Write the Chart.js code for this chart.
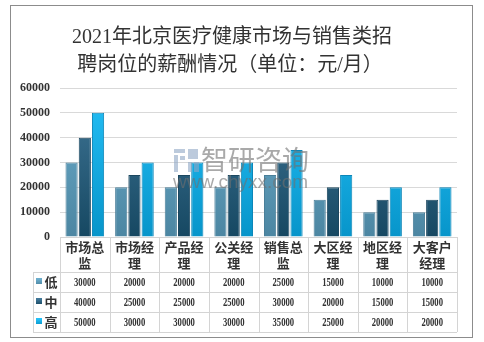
<!DOCTYPE html>
<html><head><meta charset="utf-8">
<script src="https://cdn.jsdelivr.net/npm/chart.js@4.4.0/dist/chart.umd.min.js"></script>
<style>html,body{margin:0;padding:0;background:#fff}#wrap{width:484px;height:342px;position:relative}</style>
</head><body><div id="wrap"><canvas id="c" width="484" height="342"></canvas></div>
<script>
const titleLines = ["2021年北京医疗健康市场与销售类招", "聘岗位的薪酬情况（单位：元/月）"];
const categories = ["市场总监", "市场经理", "产品经理", "公关经理", "销售总监", "大区经理", "地区经理", "大客户经理"];
const categoryLines = [["市场总","监"],["市场经","理"],["产品经","理"],["公关经","理"],["销售总","监"],["大区经","理"],["地区经","理"],["大客户","经理"]];
const seriesNames = ["低", "中", "高"];
const lowValues = [30000, 20000, 20000, 20000, 25000, 15000, 10000, 10000];
const midValues = [40000, 25000, 25000, 25000, 30000, 20000, 15000, 15000];
const highValues = [50000, 30000, 30000, 30000, 35000, 25000, 20000, 20000];
const yTicks = [0, 10000, 20000, 30000, 40000, 50000, 60000];

const colorStops = [
  ["#6daecd", "#4c86a2", "#4a7f99"],
  ["#427899", "#164862", "#1c475f"],
  ["#25c0f7", "#0795ca", "#0b86b8"]
];
function grad(idx){
  return (ctx) => {
    const ch = ctx.chart; const a = ch.chartArea;
    if (!a) return colorStops[idx][0];
    const g = ch.ctx.createLinearGradient(0, a.top, 0, a.bottom);
    g.addColorStop(0, colorStops[idx][0]);
    g.addColorStop(1, colorStops[idx][1]);
    return g;
  };
}
const serif = '"Liberation Serif", "Noto Sans CJK SC", serif';
const cjk = '"Noto Sans CJK SC", sans-serif';

const decor = {
  id: 'decor',
  beforeDraw(chart){
    const c = chart.ctx;
    c.save();
    c.fillStyle = '#fff'; c.fillRect(0,0,chart.width,chart.height);
    c.strokeStyle = '#8c8c8c'; c.lineWidth = 1;
    c.strokeRect(10.5, 5.5, 462, 332);
    c.fillStyle = '#333';
    c.font = '20px ' + serif;
    c.textAlign = 'center'; c.textBaseline = 'middle';
    c.fillText(titleLines[0], 232, 38);
    c.fillText(titleLines[1], 230, 66);
    c.restore();
  },
  afterDatasetsDraw(chart){
    const c = chart.ctx;
    c.save();
    // watermark
    c.globalAlpha = 0.6;
    c.fillStyle = '#8fa6c4';
    c.fillRect(174, 149, 11, 4); c.fillRect(174, 155, 4, 17); c.fillRect(180, 156, 5, 4);
    c.fillRect(188, 149, 10, 10); c.fillRect(188, 162, 4, 10); c.fillRect(194, 162, 5, 10);
    c.fillStyle = '#707070';
    c.font = '27px ' + cjk; c.textAlign = 'left'; c.textBaseline = 'middle';
    c.fillText('智研咨询', 201, 160);
    c.font = '19px "Liberation Sans", sans-serif';
    c.fillText('www.chyxx.com', 173, 183);
    c.restore();
  },
  afterDraw(chart){
    const c = chart.ctx;
    const xs = chart.scales.x;
    const n = categories.length;
    const left = chart.chartArea.left, right = chart.chartArea.right;
    const cw = (right - left) / n;
    const top = chart.chartArea.bottom;
    const rows = [top + 35, top + 55, top + 75, top + 95];
    const legL = 33;
    c.save();
    c.strokeStyle = '#d4d4d4'; c.lineWidth = 1;
    c.beginPath();
    c.moveTo(left, Math.round(top)+0.5); c.lineTo(right, Math.round(top)+0.5);
    rows.forEach(y => { c.moveTo(legL, y+0.5); c.lineTo(right, y+0.5); });
    for (let i = 0; i <= n; i++) {
      const x = Math.round(left + i*cw) + 0.5;
      c.moveTo(x, top); c.lineTo(x, rows[3]);
    }
    c.moveTo(legL+0.5, rows[0]); c.lineTo(legL+0.5, rows[3]);
    c.stroke();
    // category labels
    c.fillStyle = '#333'; c.textAlign = 'center'; c.textBaseline = 'middle';
    c.font = 'bold 13px ' + cjk;
    for (let i = 0; i < n; i++) {
      const cx = xs.getPixelForValue(i);
      c.fillText(categoryLines[i][0], cx, top + 10);
      c.fillText(categoryLines[i][1], cx, top + 26);
    }
    // rows
    const data = [lowValues, midValues, highValues];
    for (let r = 0; r < 3; r++) {
      const cy = rows[r] + 10;
      const g = c.createLinearGradient(0, cy-3, 0, cy+3);
      g.addColorStop(0, colorStops[r][0]); g.addColorStop(1, colorStops[r][1]);
      c.fillStyle = g; c.fillRect(36, cy-4, 6, 6);
      c.fillStyle = '#333'; c.textAlign = 'center';
      c.font = 'bold 13px ' + cjk;
      c.fillText(seriesNames[r], 51, cy);
      c.font = 'bold 12px ' + serif;
      for (let i = 0; i < n; i++) {
        const cx = xs.getPixelForValue(i);
        c.save(); c.translate(cx, cy+1); c.scale(0.72, 1);
        c.fillText(String(data[r][i]), 0, 0);
        c.restore();
      }
    }
    c.restore();
  }
};

new Chart(document.getElementById('c'), {
  type: 'bar',
  data: {
    labels: categories,
    datasets: [
      { label: seriesNames[0], data: lowValues, backgroundColor: grad(0), borderColor: colorStops[0][2], borderWidth: 1 },
      { label: seriesNames[1], data: midValues, backgroundColor: grad(1), borderColor: colorStops[1][2], borderWidth: 1 },
      { label: seriesNames[2], data: highValues, backgroundColor: grad(2), borderColor: colorStops[2][2], borderWidth: 1 }
    ]
  },
  options: {
    responsive: false, animation: false, devicePixelRatio: 1,
    layout: { padding: { left: 0, top: 88, right: 27, bottom: 105 } },
    plugins: { legend: { display: false }, title: { display: false }, tooltip: { enabled: false } },
    datasets: { bar: { categoryPercentage: 0.8, barPercentage: 0.92 } },
    scales: {
      x: {
        grid: { display: false }, border: { display: false },
        ticks: { display: false },
        afterFit(s){ s.height = 0; }
      },
      y: {
        min: 0, max: 60000,
        afterBuildTicks(s){ s.ticks = yTicks.map(v => ({ value: v })); },
        grid: { color: '#d9d9d9', drawTicks: false },
        border: { display: false },
        ticks: { padding: 10, color: '#333', font: { family: serif, size: 12, weight: 'bold' }, callback: v => String(v) },
        afterFit(s){ s.width = 60; }
      }
    }
  },
  plugins: [decor]
});
</script>
</body></html>
